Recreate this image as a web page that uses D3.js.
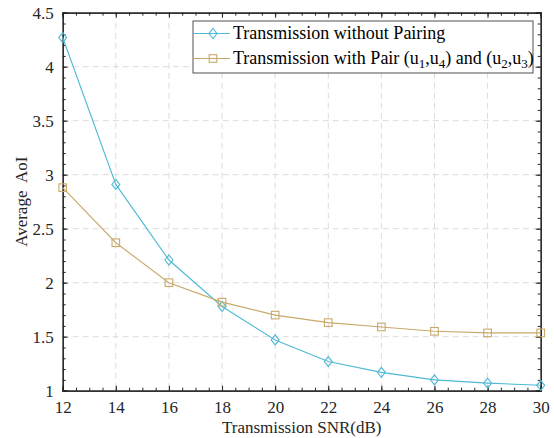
<!DOCTYPE html>
<html>
<head>
<meta charset="utf-8">
<script src="https://cdn.jsdelivr.net/npm/d3@7"></script>
<style>
  body { margin: 0; background: #fff; }
</style>
</head>
<body>
<script>
'use strict';

const snr = [12, 14, 16, 18, 20, 22, 24, 26, 28, 30];
const aoiNoPair = [4.27, 2.91, 2.21, 1.78, 1.47, 1.27, 1.17, 1.10, 1.07, 1.05];
const aoiPair = [2.88, 2.37, 2.00, 1.82, 1.70, 1.63, 1.59, 1.55, 1.535, 1.535];
const xTicks = [12, 14, 16, 18, 20, 22, 24, 26, 28, 30];
const yTicks = [1, 1.5, 2, 2.5, 3, 3.5, 4, 4.5];

const width = 554, height = 438;
const plot = { left: 62.7, right: 540.7, top: 12.7, bottom: 390.7 };
const axisColor = '#262626';

const svg = d3.select('body').append('svg')
    .attr('width', width)
    .attr('height', height);

const x = d3.scaleLinear().domain([12, 30]).range([plot.left, plot.right]);
const y = d3.scaleLinear().domain([1, 4.5]).range([plot.bottom, plot.top]);

// dashed grid at major ticks
const grid = svg.append('g').attr('stroke', '#dcdcdc').attr('stroke-width', 1)
    .attr('stroke-dasharray', '6,4');
xTicks.slice(1, -1).forEach(t => {
    grid.append('line').attr('x1', x(t)).attr('x2', x(t)).attr('y1', plot.top).attr('y2', plot.bottom);
});
yTicks.slice(1, -1).forEach(t => {
    grid.append('line').attr('x1', plot.left).attr('x2', plot.right).attr('y1', y(t)).attr('y2', y(t));
});

// axes, ticks pointing inward on all four sides
const xMinor = d3.range(12, 30.01, 0.5);
const yMinor = d3.range(1, 4.501, 0.1);

svg.append('g').attr('transform', `translate(0,${plot.bottom})`)
    .call(d3.axisBottom(x).tickValues(xMinor).tickSize(-3).tickFormat(''));
svg.append('g').attr('transform', `translate(0,${plot.bottom})`)
    .call(d3.axisBottom(x).tickValues(xTicks).tickSize(-5).tickPadding(10).tickFormat(d3.format('d')));
svg.append('g').attr('transform', `translate(0,${plot.top})`)
    .call(d3.axisTop(x).tickValues(xMinor).tickSize(-3).tickFormat(''));
svg.append('g').attr('transform', `translate(0,${plot.top})`)
    .call(d3.axisTop(x).tickValues(xTicks).tickSize(-5).tickFormat(''));

svg.append('g').attr('transform', `translate(${plot.left},0)`)
    .call(d3.axisLeft(y).tickValues(yMinor).tickSize(-3).tickFormat(''));
svg.append('g').attr('transform', `translate(${plot.left},0)`)
    .call(d3.axisLeft(y).tickValues(yTicks).tickSize(-5).tickPadding(9).tickFormat(d => d));
svg.append('g').attr('transform', `translate(${plot.right},0)`)
    .call(d3.axisRight(y).tickValues(yMinor).tickSize(-3).tickFormat(''));
svg.append('g').attr('transform', `translate(${plot.right},0)`)
    .call(d3.axisRight(y).tickValues(yTicks).tickSize(-5).tickFormat(''));

svg.selectAll('.domain').attr('stroke', axisColor).attr('stroke-width', 1.2);
svg.selectAll('.tick line').attr('stroke', axisColor);
svg.selectAll('.tick text').attr('fill', axisColor).attr('font-size', 17);

// series
const series = [
    { values: aoiNoPair, color: '#4fb9d4', marker: 'diamond' },
    { values: aoiPair, color: '#c9a96a', marker: 'square' }
];

function drawMarker(g, type, cx, cy, color) {
    if (type === 'diamond') {
        g.append('path')
            .attr('d', `M${cx},${cy - 5}L${cx + 4},${cy}L${cx},${cy + 5}L${cx - 4},${cy}Z`)
            .attr('fill', 'none').attr('stroke', color).attr('stroke-width', 1.1);
    } else {
        g.append('rect')
            .attr('x', cx - 3.8).attr('y', cy - 3.8).attr('width', 7.6).attr('height', 7.6)
            .attr('fill', 'none').attr('stroke', color).attr('stroke-width', 1.1);
    }
}

const line = d3.line().x(d => x(d[0])).y(d => y(d[1]));
series.forEach(s => {
    const pts = snr.map((v, i) => [v, s.values[i]]);
    const g = svg.append('g');
    g.append('path').attr('d', line(pts)).attr('fill', 'none')
        .attr('stroke', s.color).attr('stroke-width', 1.1);
    pts.forEach(p => drawMarker(g, s.marker, x(p[0]), y(p[1]), s.color));
});

// axis labels
svg.append('text')
    .attr('x', (plot.left + plot.right) / 2).attr('y', 433)
    .attr('text-anchor', 'middle').attr('font-size', 17).attr('fill', axisColor)
    .text('Transmission SNR(dB)');
svg.append('text')
    .attr('transform', `translate(27,${(plot.top + plot.bottom) / 2}) rotate(-90)`)
    .attr('text-anchor', 'middle').attr('font-size', 17).attr('fill', axisColor)
    .style('white-space', 'pre')
    .text('Average  AoI');

// legend
const legend = svg.append('g').attr('transform', 'translate(193,21)');
legend.append('rect').attr('width', 340).attr('height', 52)
    .attr('fill', '#fff').attr('stroke', axisColor).attr('stroke-width', 0.8);
series.forEach((s, i) => {
    const ly = 12.5 + i * 25;
    legend.append('line').attr('x1', 0).attr('x2', 37).attr('y1', ly).attr('y2', ly)
        .attr('stroke', s.color).attr('stroke-width', 1.1);
    drawMarker(legend, s.marker, 20, ly, s.color);
    const t = legend.append('text').attr('x', 40).attr('y', ly + 5)
        .attr('font-size', 18).attr('fill', '#000');
    if (i === 0) {
        t.text('Transmission without Pairing');
    } else {
        t.append('tspan').text('Transmission with Pair (u');
        t.append('tspan').attr('font-size', 13).attr('dy', 4).text('1');
        t.append('tspan').attr('dy', -4).text(',u');
        t.append('tspan').attr('font-size', 13).attr('dy', 4).text('4');
        t.append('tspan').attr('dy', -4).text(') and (u');
        t.append('tspan').attr('font-size', 13).attr('dy', 4).text('2');
        t.append('tspan').attr('dy', -4).text(',u');
        t.append('tspan').attr('font-size', 13).attr('dy', 4).text('3');
        t.append('tspan').attr('dy', -4).text(')');
    }
});

// serif everywhere, set on each text so the axis default cannot win
svg.selectAll('text').style('font-family', 'Liberation Serif');
</script>
</body>
</html>
